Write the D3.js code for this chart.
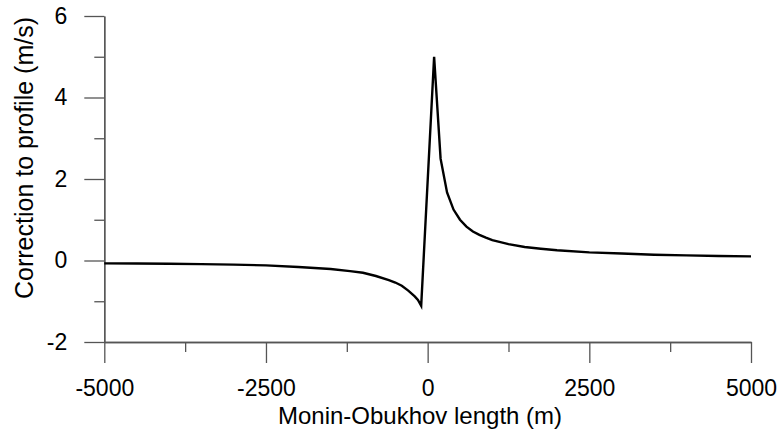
<!DOCTYPE html>
<html>
<head>
<meta charset="utf-8">
<script src="https://cdn.jsdelivr.net/npm/d3@7"></script>
<style>
  html, body { margin: 0; padding: 0; background: #fff; }
  svg { display: block; }
  text { font-family: "Liberation Sans", Arial, sans-serif; fill: #000; }
</style>
</head>
<body>
<svg id="chart" width="779" height="432"></svg>
<script>
// Monin-Obukhov length (m)
const lengthValues = [-5000, -4500, -4000, -3500, -3000, -2500, -2000, -1500, -1200, -1000, -800, -600, -500, -400, -300, -200, -150, -100,
                      100, 200, 300, 400, 500, 600, 700, 800, 900, 1000, 1250, 1500, 1750, 2000, 2500, 3000, 3500, 4000, 4500, 5000];
// Correction to profile (m/s)
const correctionValues = [-0.07, -0.075, -0.08, -0.09, -0.10, -0.12, -0.16, -0.21, -0.26, -0.30, -0.38, -0.48, -0.54, -0.62, -0.74, -0.88, -0.97, -1.11,
                          5.0, 2.5, 1.67, 1.25, 1.0, 0.83, 0.71, 0.63, 0.56, 0.5, 0.4, 0.33, 0.29, 0.25, 0.2, 0.17, 0.14, 0.125, 0.11, 0.1];
const xMajorTicks = [-5000, -2500, 0, 2500, 5000];
const xMinorTicks = [-3750, -1250, 1250, 3750];
const yMajorTicks = [6, 4, 2, 0, -2];
const yMinorTicks = [5, 3, 1, -1];
const xTitle = "Monin-Obukhov length (m)";
const yTitle = "Correction to profile (m/s)";

(function () {
const data = lengthValues.map((L, i) => ({ L, v: correctionValues[i] }));

const svg = d3.select("#chart");
const mLeft = 104.3, mRight = 751, mTop = 16, mBottom = 342;
const x = d3.scaleLinear().domain([-5000, 5000]).range([mLeft, mRight]);
const y = d3.scaleLinear().domain([-2, 6]).range([mBottom, mTop]);

const axisColor = "#555";
const tickFont = 23;

// X axis
const xAxisG = svg.append("g").attr("transform", `translate(0,${mBottom})`);
xAxisG.call(d3.axisBottom(x).tickValues(xMajorTicks).tickSize(21).tickPadding(17).tickSizeOuter(0).tickFormat(d3.format("d")));
xAxisG.append("g").call(d3.axisBottom(x).tickValues(xMinorTicks).tickSize(10).tickFormat("").tickSizeOuter(0));
xAxisG.selectAll(".domain").attr("stroke", axisColor).attr("stroke-width", 1.3);
xAxisG.selectAll(".tick line").attr("stroke", axisColor).attr("stroke-width", 1.3);
xAxisG.selectAll(".tick text").attr("font-size", tickFont).attr("font-family", "Liberation Sans, Arial, sans-serif").attr("fill", "#000");

// Y axis
const yAxisG = svg.append("g").attr("transform", `translate(${mLeft},0)`);
yAxisG.call(d3.axisLeft(y).tickValues(yMajorTicks).tickSize(20).tickPadding(17).tickSizeOuter(0).tickFormat(d3.format("d")));
yAxisG.append("g").call(d3.axisLeft(y).tickValues(yMinorTicks).tickSize(10).tickFormat("").tickSizeOuter(0));
yAxisG.selectAll(".domain").attr("stroke", axisColor).attr("stroke-width", 1.3);
yAxisG.selectAll(".tick line").attr("stroke", axisColor).attr("stroke-width", 1.3);
yAxisG.selectAll(".tick text").attr("font-size", tickFont).attr("font-family", "Liberation Sans, Arial, sans-serif").attr("fill", "#000");
svg.selectAll(".tick text").text(function () { return d3.select(this).text().replace("\u2212", "-"); });

// Curve
const line = d3.line().x(d => x(d.L)).y(d => y(d.v));
svg.append("path").datum(data)
  .attr("d", line)
  .attr("fill", "none")
  .attr("stroke", "#000")
  .attr("stroke-width", 2.4)
  .attr("stroke-linejoin", "miter");

// Titles
svg.append("text")
  .attr("x", 420)
  .attr("y", 424)
  .attr("text-anchor", "middle")
  .attr("font-size", 24)
  .text(xTitle);

svg.append("text")
  .attr("transform", `translate(33,158) rotate(-90)`)
  .attr("text-anchor", "middle")
  .attr("font-size", 25)
  .text(yTitle);
})();
</script>
</body>
</html>
